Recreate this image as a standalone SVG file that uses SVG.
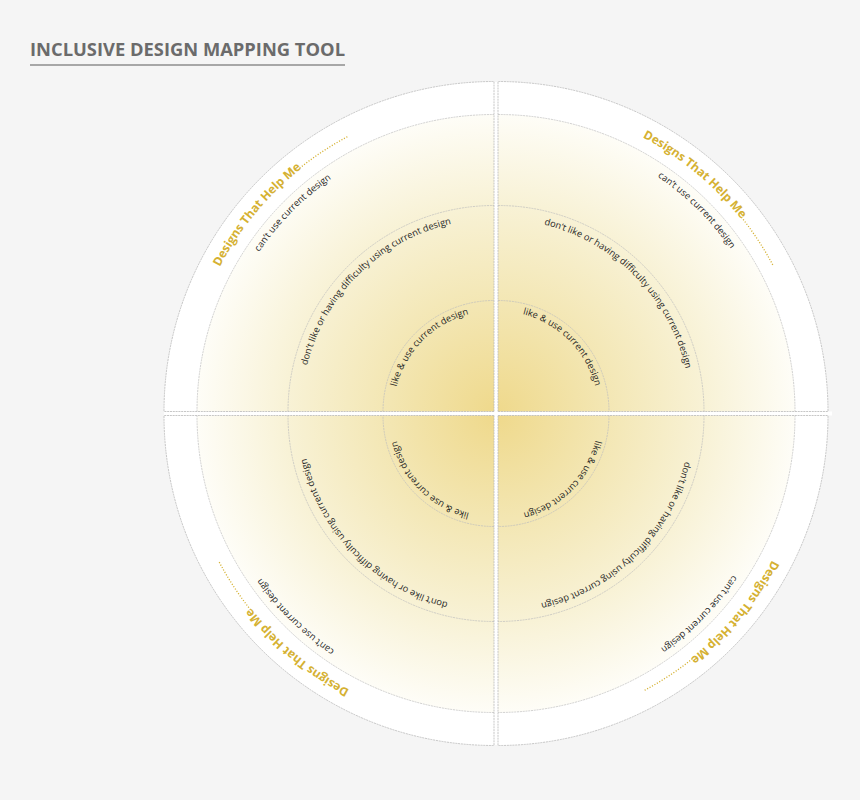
<svg xmlns="http://www.w3.org/2000/svg" width="860" height="800" viewBox="0 0 860 800">
<style>
.title{font-family:"Open Sans","Liberation Sans",sans-serif;font-weight:700;font-size:18.3px;fill:#6b6b6b}
.lbl{font-family:"Open Sans","Liberation Sans",sans-serif;font-size:9.3px;fill:#262626}
.gold{font-family:"Open Sans","Liberation Sans",sans-serif;font-weight:700;font-size:12px;fill:#d5b132}
.edge{fill:none;stroke:#b9b9b9;stroke-width:0.8;stroke-dasharray:2 0.8}
.ring{fill:none;stroke:#bdbdbd;stroke-width:0.7;stroke-dasharray:2 0.8}
.dots{fill:none;stroke:#d5b132;stroke-width:1.3;stroke-dasharray:1.1 1.7}
</style>
<defs>
<radialGradient id="glow" gradientUnits="userSpaceOnUse" cx="0" cy="0" r="297">
<stop offset="0" stop-color="#efd98c"/>
<stop offset="0.35" stop-color="#f3e6b2"/>
<stop offset="0.7" stop-color="#f8f2d6"/>
<stop offset="1" stop-color="#fefdf7"/>
</radialGradient>
<path id="outerPie" d="M0 0 H-330 A330 330 0 0 1 0 -330 Z"/>
<path id="gradPie" d="M0 0 H-297 A297 297 0 0 1 0 -297 Z"/>
<path id="rings" d="M-297 0 A297 297 0 0 1 0 -297 M-206 0 A206 206 0 0 1 0 -206 M-111 0 A111 111 0 0 1 0 -111"/>
<path id="pGold" d="M-274.2 -144.6 A310 310 0 0 1 -131.0 -281.0"/>
<path id="pDots" d="M-194.3 -243.4 A311.5 311.5 0 0 1 -146.2 -275.0"/>
<path id="pCant" d="M-234.9 -159.6 A284 284 0 0 1 -106.4 -263.3"/>
<path id="pMid" d="M-186.9 -45.9 A192.5 192.5 0 0 1 -13.4 -192.0"/>
<path id="pIn" d="M-97.4 -24.7 A100.5 100.5 0 0 1 -3.5 -100.4"/>
</defs>
<rect width="860" height="800" fill="#f5f5f5"/>
<g id="title">
<text class="title" x="30" y="56" textLength="315" lengthAdjust="spacingAndGlyphs">INCLUSIVE DESIGN MAPPING TOOL</text>
<line x1="30" y1="65" x2="345" y2="65" stroke="#8c8c8c" stroke-width="1.5"/>
</g>
<g id="gaps" fill="#ffffff">
<rect x="494" y="82" width="4" height="663"/>
<rect x="164" y="411.5" width="668" height="4"/>
</g>
<g id="q-tl" transform="translate(494 411.5)">
<use href="#outerPie" fill="#ffffff"/>
<use href="#gradPie" fill="url(#glow)"/>
<use href="#rings" class="ring"/>
<use href="#outerPie" class="edge"/>
<text class="gold"><textPath href="#pGold">Designs That Help Me</textPath></text>
<use href="#pDots" class="dots"/>
<text class="lbl"><textPath href="#pCant">can’t use current design</textPath></text>
<text class="lbl"><textPath href="#pMid">don’t like or having difficulty using current design</textPath></text>
<text class="lbl"><textPath href="#pIn">like &amp; use current design</textPath></text>
</g>
<g id="q-tr" transform="translate(498 411.5) rotate(90)">
<use href="#outerPie" fill="#ffffff"/>
<use href="#gradPie" fill="url(#glow)"/>
<use href="#rings" class="ring"/>
<use href="#outerPie" class="edge"/>
<text class="gold"><textPath href="#pGold">Designs That Help Me</textPath></text>
<use href="#pDots" class="dots"/>
<text class="lbl"><textPath href="#pCant">can’t use current design</textPath></text>
<text class="lbl"><textPath href="#pMid">don’t like or having difficulty using current design</textPath></text>
<text class="lbl"><textPath href="#pIn">like &amp; use current design</textPath></text>
</g>
<g id="q-br" transform="translate(498 415.5) rotate(180)">
<use href="#outerPie" fill="#ffffff"/>
<use href="#gradPie" fill="url(#glow)"/>
<use href="#rings" class="ring"/>
<use href="#outerPie" class="edge"/>
<text class="gold"><textPath href="#pGold">Designs That Help Me</textPath></text>
<use href="#pDots" class="dots"/>
<text class="lbl"><textPath href="#pCant">can’t use current design</textPath></text>
<text class="lbl"><textPath href="#pMid">don’t like or having difficulty using current design</textPath></text>
<text class="lbl"><textPath href="#pIn">like &amp; use current design</textPath></text>
</g>
<g id="q-bl" transform="translate(494 415.5) rotate(270)">
<use href="#outerPie" fill="#ffffff"/>
<use href="#gradPie" fill="url(#glow)"/>
<use href="#rings" class="ring"/>
<use href="#outerPie" class="edge"/>
<text class="gold"><textPath href="#pGold">Designs That Help Me</textPath></text>
<use href="#pDots" class="dots"/>
<text class="lbl"><textPath href="#pCant">can’t use current design</textPath></text>
<text class="lbl"><textPath href="#pMid">don’t like or having difficulty using current design</textPath></text>
<text class="lbl"><textPath href="#pIn">like &amp; use current design</textPath></text>
</g>
</svg>
